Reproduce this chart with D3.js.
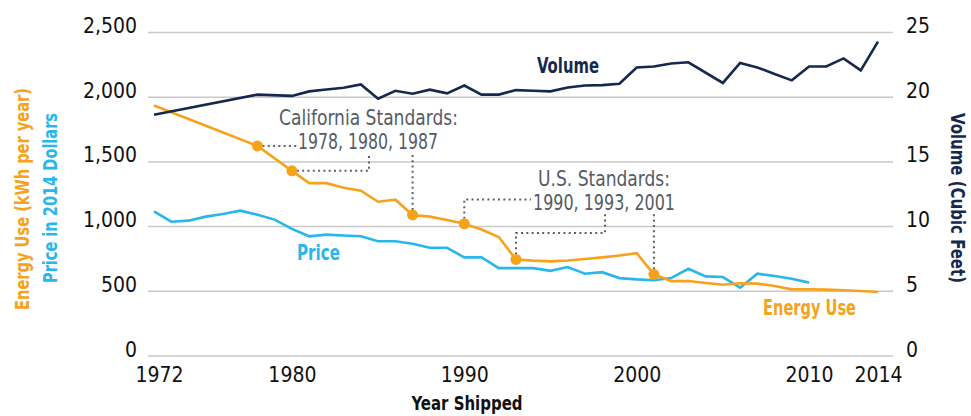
<!DOCTYPE html>
<html lang="en">

<head>
    <meta http-equiv="Content-Type" content="text/html; charset=UTF-8">
    <title>Refrigerator Energy Use, Volume and Price</title>
    <script type="text/javascript" src="https://d3js.org/d3.v7.min.js"></script>
    <style>
        body { margin: 0; background: #ffffff; }
        text { font-family: "DejaVu Sans Condensed", "DejaVu Sans", sans-serif; }
    </style>
</head>

<body>
    <div id="graph"></div>

    <script type="text/javascript">
        // data (null = not readable, line runs straight through)
        var years = [1972, 1973, 1974, 1975, 1976, 1977, 1978, 1979, 1980, 1981,
                     1982, 1983, 1984, 1985, 1986, 1987, 1988, 1989, 1990, 1991,
                     1992, 1993, 1994, 1995, 1996, 1997, 1998, 1999, 2000, 2001,
                     2002, 2003, 2004, 2005, 2006, 2007, 2008, 2009, 2010, 2011,
                     2012, 2013, 2014];

        // kWh per year
        var energy = [1936, null, null, null, null, null, 1623, null, 1431, 1336,
                      1336, 1300, 1277, 1192, 1208, 1090, 1077, 1051, 1022, 977,
                      920, 746, 737, 731, 738, 749, 762, 777, 795, 631,
                      579, 579, 564, 551, 562, 559, 541, 515, 515, 513,
                      508, 502, 495];

        // price in 2014 dollars
        var price = [1118, 1038, 1046, 1077, 1097, 1123, 1092, 1054, 982, 925,
                     938, 931, 925, 887, 887, 867, 836, 836, 762, 762,
                     679, 679, 679, 658, 687, 636, 648, 602, 592, 585,
                     602, 674, 615, 610, 528, 636, 618, 597, 567, null,
                     null, null, null];

        // cubic feet
        var volume = [18.65, null, null, null, null, null, 20.2, null, 20.1, 20.45,
                      20.6, 20.73, 20.99, 19.88, 20.5, 20.27, 20.58, 20.3, 20.9, 20.2,
                      20.2, 20.55, 20.5, 20.45, 20.75, 20.9, 20.93, 21.04, 22.3, 22.37,
                      22.6, 22.7, null, 21.1, 22.65, 22.3, 21.8, 21.3, 22.37, 22.37,
                      23.0, 22.07, 24.3];

        var standardYears = [1978, 1980, 1987, 1990, 1993, 2001];

        var xTicks = [1972, 1980, 1990, 2000, 2010, 2014];
        var leftTicks = [0, 500, 1000, 1500, 2000, 2500];
        var rightTicks = [0, 5, 10, 15, 20, 25];

        var orange = "#f7a21b";
        var blue = "#29b6ea";
        var navy = "#14294d";
        var grey = "#555b66";

        var width = 971;
        var height = 416;

        var svg = d3.select("#graph").append("svg").attr("width", width).attr("height", height);

        var xscale = d3.scaleLinear().domain([1972, 2014]).range([154, 878]);
        var yleft = d3.scaleLinear().domain([0, 2500]).range([356, 32.5]);
        var yright = d3.scaleLinear().domain([0, 25]).range([356, 32.5]);

        function pairs(values) {
            var out = [];
            for (var i = 0; i < years.length; i++) {
                if (values[i] != null) {
                    out.push({ year: years[i], value: values[i] });
                }
            }
            return out;
        }

        // condensed look: squeeze a label to the width it has in the original
        function label(x, y, rot, txt, len, size, bold, fill, anchor) {
            var t = svg.append("text")
                .attr("transform", "translate(" + x + "," + y + ")" + (rot ? " rotate(" + rot + ")" : ""))
                .attr("text-anchor", anchor || "middle")
                .attr("textLength", len)
                .attr("lengthAdjust", "spacingAndGlyphs")
                .style("font-size", size + "px")
                .style("font-weight", bold ? "bold" : "normal")
                .style("fill", fill)
                .text(txt);
            if (rot) t.attr("dominant-baseline", "central");
            return t;
        }

        //grid
        svg.append("g").selectAll("line").data(leftTicks).enter()
            .append("line")
            .attr("x1", 148).attr("x2", 893)
            .attr("y1", function(d) { return yleft(d); })
            .attr("y2", function(d) { return yleft(d); })
            .style("stroke", "#c9c9c9")
            .style("stroke-width", 1.5);

        //left axis labels (baseline sits on the grid line)
        var leftAxis = d3.axisLeft(yleft).tickValues(leftTicks).tickSize(0).tickPadding(0)
            .tickFormat(d3.format(","));
        var gl = svg.append("g").attr("transform", "translate(137,0)").call(leftAxis);
        gl.select(".domain").remove();
        gl.selectAll("text").attr("dy", "0").style("font-size", "21px").style("fill", "#111");

        var rightAxis = d3.axisRight(yright).tickValues(rightTicks).tickSize(0).tickPadding(0);
        var gr = svg.append("g").attr("transform", "translate(906,0)").call(rightAxis);
        gr.select(".domain").remove();
        gr.selectAll("text").attr("dy", "0").style("font-size", "21px").style("fill", "#111");

        var xAxis = d3.axisBottom(xscale).tickValues(xTicks).tickSize(0).tickPadding(0)
            .tickFormat(d3.format("d"));
        var gx = svg.append("g").attr("transform", "translate(0,382)").call(xAxis);
        gx.select(".domain").remove();
        gx.selectAll("text").attr("dy", "0").style("font-size", "21px").style("fill", "#111")
            .attr("dx", function(d) { return d == 1972 ? 5 : 0; });

        //axis titles
        label(22, 199, -90, "Energy Use (kWh per year)", 222, 20, true, orange);
        label(50, 198, -90, "Price in 2014 Dollars", 170, 20, true, blue);
        label(958, 198, 90, "Volume (Cubic Feet)", 170, 19, true, navy);
        label(467, 410, 0, "Year Shipped", 111, 20, true, "#111");

        //lines
        var lineLeft = d3.line()
            .x(function(d) { return xscale(d.year); })
            .y(function(d) { return yleft(d.value); });
        var lineRight = d3.line()
            .x(function(d) { return xscale(d.year); })
            .y(function(d) { return yright(d.value); });

        svg.append("path").attr("d", lineLeft(pairs(price)))
            .style("fill", "none").style("stroke", blue).style("stroke-width", 2.6);
        svg.append("path").attr("d", lineLeft(pairs(energy)))
            .style("fill", "none").style("stroke", orange).style("stroke-width", 2.6);
        svg.append("path").attr("d", lineRight(pairs(volume)))
            .style("fill", "none").style("stroke", navy).style("stroke-width", 2.6);

        //standards annotations
        function px(yr) { return xscale(yr); }
        function py(yr) { return yleft(energy[years.indexOf(yr)]); }

        var leaders = [
            [[px(1978) + 5, py(1978)], [297, py(1978)]],
            [[px(1980) + 5, py(1980)], [369, py(1980)], [369, 153]],
            [[px(1987), py(1987) - 5], [px(1987), 153]],
            [[px(1990), py(1990) - 5], [px(1990), 199.5], [531, 199.5]],
            [[px(1993), py(1993) - 5], [px(1993), 233], [605, 233], [605, 213]],
            [[px(2001), py(2001) - 5], [px(2001), 213]]
        ];
        svg.append("g").selectAll("path").data(leaders).enter()
            .append("path")
            .attr("d", d3.line())
            .style("fill", "none")
            .style("stroke", "#5b606a")
            .style("stroke-width", 2)
            .style("stroke-dasharray", "2,3.3");

        svg.append("g").selectAll("circle").data(standardYears).enter()
            .append("circle")
            .attr("r", 5.5)
            .attr("cx", function(d) { return px(d); })
            .attr("cy", function(d) { return py(d); })
            .style("fill", orange);

        label(368.5, 125, 0, "California Standards:", 179, 21, false, grey);
        label(368, 148.5, 0, "1978, 1980, 1987", 140, 21, false, grey);
        label(604, 186, 0, "U.S. Standards:", 132, 21, false, grey);
        label(604, 210, 0, "1990, 1993, 2001", 142, 21, false, grey);

        //series labels
        label(537, 73, 0, "Volume", 62, 21, true, navy, "start");
        label(297, 260, 0, "Price", 43, 21, true, blue, "start");
        label(763, 315, 0, "Energy Use", 93, 21, true, orange, "start");

    </script>

</body>

</html>
